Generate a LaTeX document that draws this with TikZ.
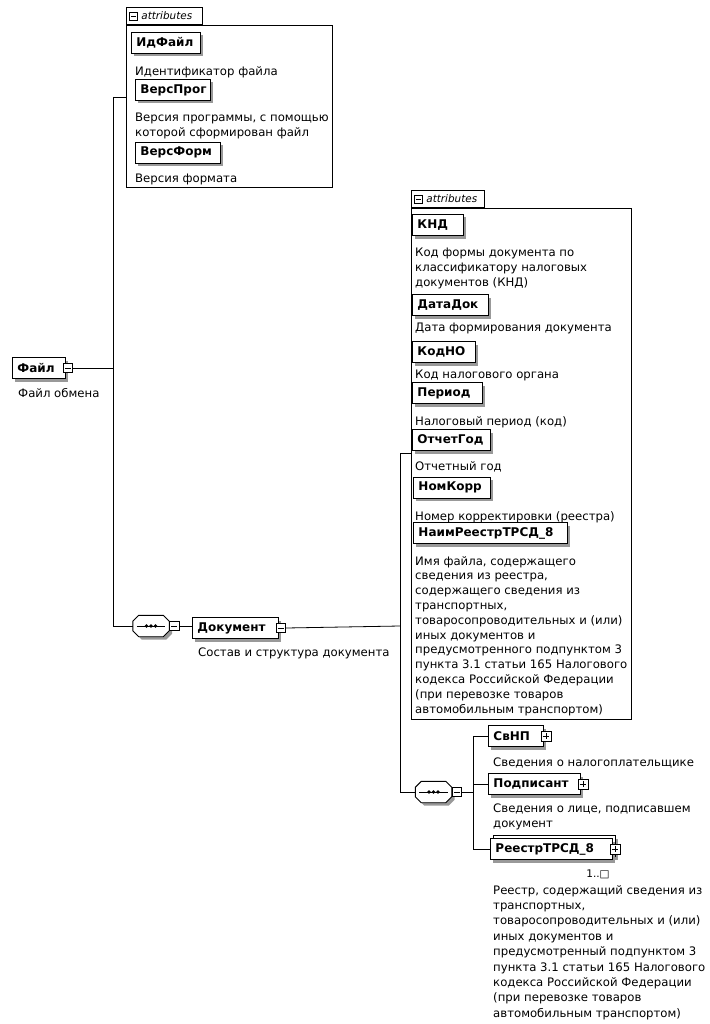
\documentclass[tikz,border=0pt]{standalone}
\usepackage{fontspec}
\setmainfont{DejaVu Sans}
\usetikzlibrary{shadows}
\newcommand{\elemfont}{\fontsize{12}{14}\selectfont\bfseries}
\newcommand{\descfont}{\fontsize{11.7}{14.8}\selectfont}
\newcommand{\descfontb}{\fontsize{11.7}{15.4}\selectfont}
\newcommand{\tabfont}{\fontsize{10.4}{11}\selectfont\itshape}
\newcommand{\multfont}{\fontsize{10.5}{11}\selectfont}
% octagon outline round a named node; #2,#3 = extra x/y shift
\newcommand{\octpath}[3]{([xshift=6pt+#2,yshift=#3]#1.north west) -- ([xshift=-6pt+#2,yshift=#3]#1.north east)
  -- ([xshift=#2,yshift=-6pt+#3]#1.north east) -- ([xshift=#2,yshift=6pt+#3]#1.south east)
  -- ([xshift=-6pt+#2,yshift=#3]#1.south east) -- ([xshift=6pt+#2,yshift=#3]#1.south west)
  -- ([xshift=#2,yshift=6pt+#3]#1.south west) -- ([xshift=#2,yshift=-6pt+#3]#1.north west) -- cycle}
\newcommand{\seqdraw}[1]{%
  \fill[black!40] \octpath{#1}{3pt}{-3pt};
  \draw[line width=0.9pt, fill=white] \octpath{#1}{0pt}{0pt};
  \draw[line width=0.8pt] ([xshift=4pt]#1.west) -- ([xshift=-4pt]#1.east);
  \fill (#1.center) circle (1.8pt);
  \fill ([xshift=-4.5pt]#1.center) circle (1.8pt);
  \fill ([xshift=4.5pt]#1.center) circle (1.8pt);}
\begin{document}
\begin{tikzpicture}[x=1pt,y=-1pt,
  conn/.style={line width=0.8pt,draw=black},
  elem/.style={draw, fill=white, line width=0.9pt, font=\elemfont, inner xsep=5pt, inner ysep=0pt,
    minimum height=21pt, anchor=west, align=left, text width=#1,
    drop shadow={shadow xshift=3pt, shadow yshift=-3pt, fill=black!40, opacity=1}},
  backelem/.style={draw, fill=white, line width=0.9pt, inner sep=0pt, anchor=west,
    minimum height=21pt, minimum width=#1,
    drop shadow={shadow xshift=3pt, shadow yshift=-3pt, fill=black!40, opacity=1}},
  desc/.style={font=\descfont, align=left, anchor=north west, inner sep=0pt, text=black},
  descb/.style={font=\descfontb, align=left, anchor=north west, inner sep=0pt, text=black},
  frame/.style={draw, line width=0.8pt, anchor=north west, inner sep=0pt},
  tabbox/.style={draw, line width=0.8pt, anchor=south west, font=\tabfont, inner xsep=3pt, inner ysep=0pt,
    minimum height=17pt, text width=#1, align=left},
  minusic/.style={draw, fill=white, line width=0.6pt, minimum size=9.5pt, inner sep=0pt,
    path picture={\draw[line width=0.6pt] ([xshift=1.8pt]path picture bounding box.west) -- ([xshift=-1.8pt]path picture bounding box.east);}},
  plusic/.style={draw, fill=white, line width=0.6pt, minimum size=10pt, inner sep=0pt,
    path picture={\draw[line width=0.6pt] ([xshift=1.8pt]path picture bounding box.west) -- ([xshift=-1.8pt]path picture bounding box.east);
      \draw[line width=0.6pt] ([yshift=-1.8pt]path picture bounding box.north) -- ([yshift=1.8pt]path picture bounding box.south);}},
  seqnode/.style={rectangle, inner sep=0pt, minimum width=36pt, minimum height=21pt}
]
\useasboundingbox (0,0) rectangle (709,1024);

% ---------- top attributes frame ----------
\node[frame, minimum width=206pt, minimum height=162pt] (frameA) at (126,25) {};
\node[tabbox=70pt] (tabA) at (frameA.north west) {\hspace{12pt}attributes};
\node[minusic, minimum size=8.5pt] (tabAic) at ([xshift=7.5pt]tabA.west) {};

\node[elem=59pt] (idfile) at (131,43) {ИдФайл};
\node[desc] (idfiled) at (135,66) {Идентификатор файла};
\node[elem=65pt] (versprog) at (135,90) {ВерсПрог};
\node[desc] (versprogd) at (135,113) {Версия программы, с помощью\\которой сформирован файл};
\node[elem=75pt] (versform) at (135,152.5) {ВерсФорм};
\node[desc] (versformd) at (135,174) {Версия формата};

% ---------- root ----------
\node[elem=43pt] (fayl) at (12,368) {Файл};
\node[minusic] (faylic) at ([xshift=2pt]fayl.east) {};
\node[desc] (fayld) at (18,388) {Файл обмена};

\coordinate (jA) at (113,368);
\coordinate (jTop) at (113,97);
\coordinate (jBot) at (113,626);

% ---------- sequence 1 and Документ ----------
\node[seqnode] (seq1) at (151,626) {};
\seqdraw{seq1}
\node[minusic] (seq1ic) at ([xshift=5pt]seq1.east) {};
\node[elem=76pt] (dok) at (192,628) {Документ};
\node[minusic] (dokic) at ([xshift=2pt]dok.east) {};
\node[desc] (dokd) at (198,648) {Состав и структура документа};

\coordinate (kA) at (400,626);
\coordinate (kTop) at (400,453);
\coordinate (kBot) at (400,792);

% ---------- right attributes frame ----------
\node[frame, minimum width=220pt, minimum height=511pt] (frameB) at (411,208) {};
\node[tabbox=67pt] (tabB) at (frameB.north west) {\hspace{12pt}attributes};
\node[minusic, minimum size=8.5pt] (tabBic) at ([xshift=7.5pt]tabB.west) {};

\node[elem=41pt] (knd) at (412,225) {КНД};
\node[desc] (kndd) at (415,248) {Код формы документа по\\классификатору налоговых\\документов (КНД)};
\node[elem=66pt] (datadok) at (412,305) {ДатаДок};
\node[desc] (datadokd) at (415,323) {Дата формирования документа};
\node[elem=53pt] (kodno) at (412,352) {КодНО};
\node[desc] (kodnod) at (415,370) {Код налогового органа};
\node[elem=60pt] (period) at (412,393) {Период};
\node[desc] (periodd) at (415,416) {Налоговый период (код)};
\node[elem=68pt] (otchgod) at (412,440) {ОтчетГод};
\node[desc] (otchgodd) at (415,461) {Отчетный год};
\node[elem=67pt] (nomkorr) at (413,487.5) {НомКорр};
\node[desc] (nomkorrd) at (415,511) {Номер корректировки (реестра)};
\node[elem=144pt] (naim) at (413,533) {НаимРеестрТРСД\_8};
\node[desc] (naimd) at (415,556) {Имя файла, содержащего\\сведения из реестра,\\содержащего сведения из\\транспортных,\\товаросопроводительных и (или)\\иных документов и\\предусмотренного подпунктом 3\\пункта 3.1 статьи 165 Налогового\\кодекса Российской Федерации\\(при перевозке товаров\\автомобильным транспортом)};

% ---------- sequence 2 and children ----------
\node[seqnode] (seq2) at (433.5,792) {};
\seqdraw{seq2}
\node[minusic] (seq2ic) at ([xshift=5pt]seq2.east) {};
\coordinate (mTop) at (473,736);
\coordinate (mMid) at (473,784);
\coordinate (mBot) at (473,849);

\node[elem=45pt] (svnp) at (488,736) {СвНП};
\node[plusic] (svnpic) at ([xshift=2pt]svnp.east) {};
\node[desc] (svnpd) at (493,758) {Сведения о налогоплательщике};
\node[elem=82pt] (podp) at (488,784) {Подписант};
\node[plusic] (podpic) at ([xshift=2pt]podp.east) {};
\node[desc] (podpd) at (493,804) {Сведения о лице, подписавшем\\документ};
\node[backelem=122pt] (reestrback) at (493,846) {};
\node[elem=112pt] (reestr) at (490,849) {РеестрТРСД\_8};
\node[plusic] (reestric) at ([xshift=2pt]reestr.east) {};
\node[font=\multfont, inner sep=0pt] (mult) at (598,874) {1..□};
\node[descb] (reestrd) at (493,885) {Реестр, содержащий сведения из\\транспортных,\\товаросопроводительных и (или)\\иных документов и\\предусмотренный подпунктом 3\\пункта 3.1 статьи 165 Налогового\\кодекса Российской Федерации\\(при перевозке товаров\\автомобильным транспортом)};

% ---------- connectors ----------
\draw[conn] (faylic.east) -- (jA);
\draw[conn] (jTop) -- (jBot);
\draw[conn] (jTop) -- (jTop -| frameA.west);
\draw[conn] (jBot) -- (seq1.west);
\draw[conn] (seq1ic.east) -- (seq1ic.east -| dok.west);
\draw[conn] (dokic.east) -- (kA);
\draw[conn] (kTop) -- (kBot);
\draw[conn] (kTop) -- (kTop -| frameB.west);
\draw[conn] (kBot) -- (seq2.west);
\draw[conn] (seq2ic.east) -- (seq2ic.east -| mMid);
\draw[conn] (mTop) -- (mBot);
\draw[conn] (mTop) -- (svnp.west);
\draw[conn] (mMid) -- (podp.west);
\draw[conn] (mBot) -- (reestr.west);
\end{tikzpicture}
\end{document}
